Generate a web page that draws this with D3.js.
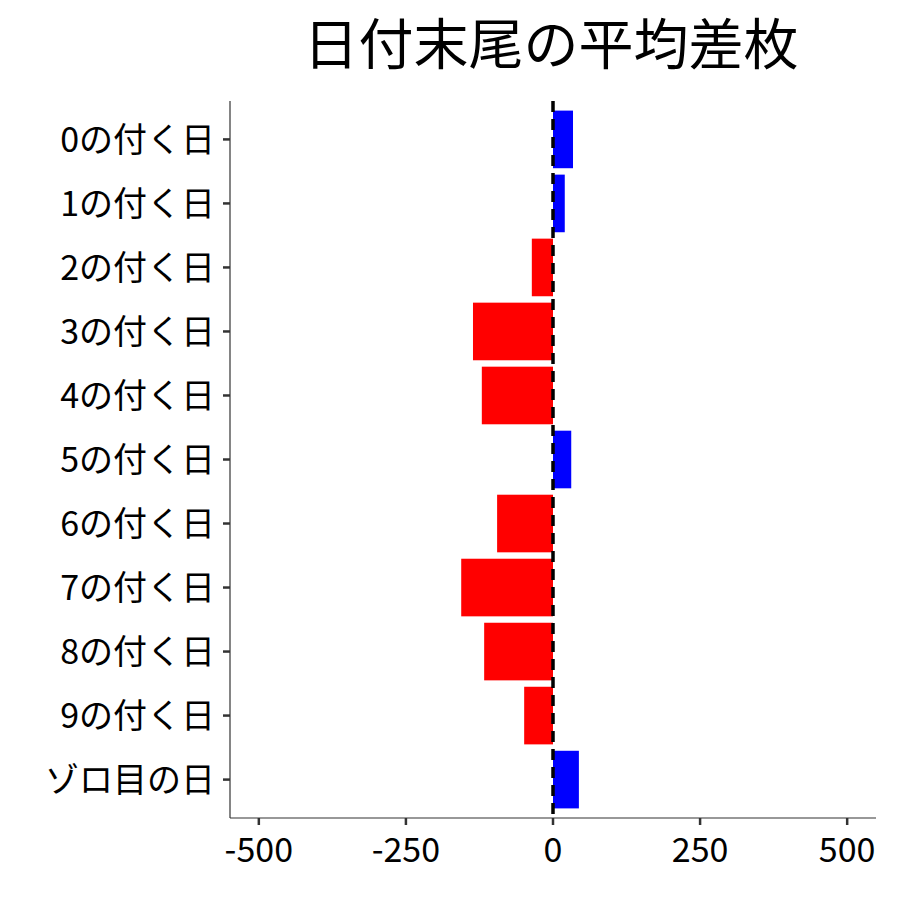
<!DOCTYPE html>
<html><head><meta charset="utf-8">
<script src="https://cdn.jsdelivr.net/npm/d3@7"></script>
<style>body{margin:0;background:#fff}text{font-family:"Noto Sans CJK JP",sans-serif}</style>
</head><body><div id="chart"></div>
<script>
var categories = ["0の付く日","1の付く日","2の付く日","3の付く日","4の付く日","5の付く日","6の付く日","7の付く日","8の付く日","9の付く日","ゾロ目の日"];
var values = [34, 20, -36, -136, -121, 31, -95, -156, -117, -49, 44];
var ticks = [-500, -250, 0, 250, 500];
var title = "日付末尾の平均差枚";

var svg = d3.select("#chart").append("svg").attr("width", 900).attr("height", 900);
var pLeft = 230, pRight = 876, pTop = 101, pBottom = 818;

var x = d3.scaleLinear().domain([-549, 549]).range([pLeft, pRight]);
var step = (pBottom - pTop) / (categories.length + 0.2);
var y = function(i) { return pTop + step * (0.6 + i); };

svg.append("text").attr("x", 551).attr("y", 64).attr("text-anchor", "middle")
    .attr("font-size", 55).text(title);

svg.selectAll("rect.bar").data(values).enter().append("rect")
    .attr("class", "bar")
    .attr("x", function(d) { return x(Math.min(0, d)); })
    .attr("width", function(d) { return Math.abs(x(d) - x(0)); })
    .attr("y", function(d, i) { return y(i) - step * 0.45; })
    .attr("height", step * 0.9)
    .attr("fill", function(d) { return d < 0 ? "#ff0000" : "#0000ff"; });

svg.append("line").attr("x1", x(0)).attr("x2", x(0)).attr("y1", pTop).attr("y2", pBottom)
    .attr("stroke", "#000").attr("stroke-width", 3.5).attr("stroke-dasharray", "11,7");

var g = svg.append("g");
g.append("line").attr("x1", pLeft).attr("x2", pLeft).attr("y1", pTop).attr("y2", pBottom).attr("stroke", "#333").attr("stroke-width", 1.2);
g.append("line").attr("x1", pLeft).attr("x2", pRight).attr("y1", pBottom).attr("y2", pBottom).attr("stroke", "#333").attr("stroke-width", 1.2);

categories.forEach(function(c, i) {
    g.append("line").attr("x1", pLeft - 7).attr("x2", pLeft).attr("y1", y(i)).attr("y2", y(i)).attr("stroke", "#333").attr("stroke-width", 2.5);
    g.append("text").attr("x", pLeft - 15).attr("y", y(i)).attr("dy", "0.36em")
        .attr("text-anchor", "end").attr("font-size", 34).attr("fill", "#000").text(c);
});
ticks.forEach(function(t) {
    g.append("line").attr("x1", x(t)).attr("x2", x(t)).attr("y1", pBottom).attr("y2", pBottom + 7).attr("stroke", "#333").attr("stroke-width", 2.5);
    g.append("text").attr("x", x(t)).attr("y", pBottom + 44).attr("text-anchor", "middle")
        .attr("font-size", 34).attr("fill", "#000").text(t);
});
</script></body></html>
